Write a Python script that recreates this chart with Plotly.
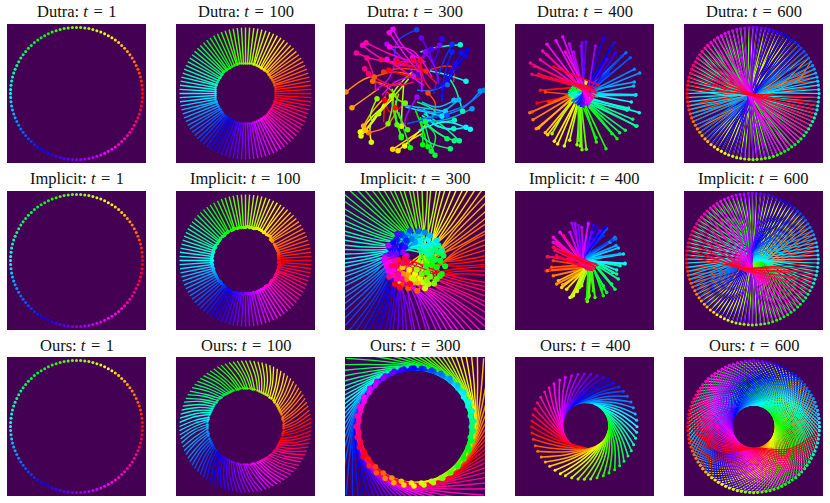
import colorsys
import plotly.graph_objects as go

METHODS = ["Dutra", "Implicit", "Ours"]
TIMES = [1, 100, 300, 400, 600]

START_X = [66,65.9,65.5,64.9,64,62.8,61.4,59.7,57.8,55.7,53.4,50.9,48.1,45.2,42.1,38.8,35.4,31.8,28.1,24.3,20.4,16.4,12.4,8.3,4.1,
0,-4.1,-8.3,-12.4,-16.4,-20.4,-24.3,-28.1,-31.8,-35.4,-38.8,-42.1,-45.2,-48.1,-50.9,-53.4,-55.7,-57.8,-59.7,-61.4,-62.8,-64,-64.9,-65.5,-65.9,
-66,-65.9,-65.5,-64.9,-64,-62.8,-61.4,-59.7,-57.8,-55.7,-53.4,-50.9,-48.1,-45.2,-42.1,-38.8,-35.4,-31.8,-28.1,-24.3,-20.4,-16.4,-12.4,-8.3,-4.1,
0,4.1,8.3,12.4,16.4,20.4,24.3,28.1,31.8,35.4,38.8,42.1,45.2,48.1,50.9,53.4,55.7,57.8,59.7,61.4,62.8,64,64.9,65.5,65.9]
START_Y = [0,4.1,8.3,12.4,16.4,20.4,24.3,28.1,31.8,35.4,38.8,42.1,45.2,48.1,50.9,53.4,55.7,57.8,59.7,61.4,62.8,64,64.9,65.5,65.9,
66,65.9,65.5,64.9,64,62.8,61.4,59.7,57.8,55.7,53.4,50.9,48.1,45.2,42.1,38.8,35.4,31.8,28.1,24.3,20.4,16.4,12.4,8.3,4.1,
0,-4.1,-8.3,-12.4,-16.4,-20.4,-24.3,-28.1,-31.8,-35.4,-38.8,-42.1,-45.2,-48.1,-50.9,-53.4,-55.7,-57.8,-59.7,-61.4,-62.8,-64,-64.9,-65.5,-65.9,
-66,-65.9,-65.5,-64.9,-64,-62.8,-61.4,-59.7,-57.8,-55.7,-53.4,-50.9,-48.1,-45.2,-42.1,-38.8,-35.4,-31.8,-28.1,-24.3,-20.4,-16.4,-12.4,-8.3,-4.1]

D100_HX = [30,30,30,30,29,29,28,27,26,25,24,23,22,21,19,18,16,15,13,11,9,8,6,4,2,
0,-2,-4,-6,-8,-9,-11,-13,-15,-16,-18,-19,-21,-22,-23,-24,-25,-26,-27,-28,-29,-29,-30,-30,-30,
-30,-30,-30,-30,-29,-29,-28,-27,-26,-25,-24,-23,-22,-21,-19,-18,-16,-15,-13,-11,-9,-8,-6,-4,-2,
0,2,4,6,8,9,11,13,15,16,18,19,21,22,23,24,25,26,27,28,29,29,30,30,30]
D100_HY = [0,2,4,6,8,9,11,13,15,16,18,19,21,22,23,24,25,26,27,28,29,29,30,30,30,
30,30,30,30,29,29,28,27,26,25,24,23,22,21,19,18,16,15,13,11,9,8,6,4,2,
0,-2,-4,-6,-8,-9,-11,-13,-15,-16,-18,-19,-21,-22,-23,-24,-25,-26,-27,-28,-29,-29,-30,-30,-30,
-30,-30,-30,-30,-29,-29,-28,-27,-26,-25,-24,-23,-22,-21,-19,-18,-16,-15,-13,-11,-9,-8,-6,-4,-2]

I100_HX = [34,33,33,33,33,32,31,30,29,27,26,25,25,23,21,19,18,16,14,12,10,8,6,4,2,
0,-2,-4,-6,-8,-11,-12,-14,-17,-18,-20,-21,-23,-25,-26,-27,-28,-30,-30,-31,-32,-32,-33,-33,-34,
-33,-34,-33,-33,-32,-32,-31,-30,-29,-28,-27,-25,-24,-22,-21,-19,-18,-16,-14,-12,-10,-8,-6,-4,-2,
0,2,4,6,8,11,12,14,16,18,20,22,24,25,26,28,29,30,31,32,32,33,33,34,33]
I100_HY = [0,2,4,6,8,10,12,14,16,19,20,21,24,25,26,28,28,30,31,32,32,32,33,33,34,
33,33,33,33,32,32,31,30,29,28,27,25,24,22,20,19,17,15,13,12,10,8,6,4,2,
0,-2,-4,-6,-8,-10,-12,-14,-16,-18,-20,-21,-23,-25,-26,-28,-29,-30,-31,-32,-32,-33,-33,-33,-34,
-33,-33,-33,-33,-32,-32,-31,-30,-29,-28,-26,-25,-24,-22,-20,-19,-17,-15,-13,-11,-10,-8,-6,-4,-2]

O100_HX = [37,37,38,38,38,38,38,37,37,36,35,34,33,32,31,29,28,26,24,22,20,18,16,14,12,9,7,5,2,0,
-2,-5,-7,-9,-12,-14,-16,-18,-20,-22,-24,-26,-28,-29,-31,-32,-33,-34,-35,-36,-37,-37,-38,-38,-38,
-38,-38,-37,-37,-36,-35,-34,-33,-32,-31,-29,-28,-26,-24,-22,-20,-18,-16,-14,-12,-9,-7,-5,-2,0,
2,5,7,9,12,14,16,18,20,22,24,26,28,29,31,32,33,34,35,36]
O100_HY = [-9,-7,-5,-2,0,2,5,7,9,12,14,16,18,20,22,24,26,28,29,31,32,33,34,35,36,37,37,38,38,38,
38,38,37,37,36,35,34,33,32,31,29,28,26,24,22,20,18,16,14,12,9,7,5,2,0,
-2,-5,-7,-9,-12,-14,-16,-18,-20,-22,-24,-26,-28,-29,-31,-32,-33,-34,-35,-36,-37,-37,-38,-38,-38,
-38,-38,-37,-37,-36,-35,-34,-33,-32,-31,-29,-28,-26,-24,-22,-20,-18,-16,-14,-12]
O100_MX = [51,51,51,51,51,50,49,49,47,46,45,43,41,39,37,35,32,30,27,25,22,19,16,13,10,6,3,0,
-3,-6,-10,-13,-16,-19,-22,-25,-27,-30,-32,-35,-37,-39,-41,-43,-45,-46,-47,-49,-49,-50,-51,-51,-51,
-51,-51,-50,-49,-49,-47,-46,-45,-43,-41,-39,-37,-35,-32,-30,-27,-25,-22,-19,-16,-13,-10,-6,-3,0,
3,6,10,13,16,19,22,25,27,30,32,35,37,39,41,43,45,46,47,49,49,50]
O100_MY = [-6,-3,0,3,6,10,13,16,19,22,25,27,30,32,35,37,39,41,43,45,46,47,49,49,50,51,51,51,
51,51,50,49,49,47,46,45,43,41,39,37,35,32,30,27,25,22,19,16,13,10,6,3,0,
-3,-6,-10,-13,-16,-19,-22,-25,-27,-30,-32,-35,-37,-39,-41,-43,-45,-46,-47,-49,-49,-50,-51,-51,-51,
-51,-51,-50,-49,-49,-47,-46,-45,-43,-41,-39,-37,-35,-32,-30,-27,-25,-22,-19,-16,-13,-10]

D300_HX = [128,160,252,125,258,97,92,80,12,30,65,70,152,168,188,55,57,88,178,110,148,105,138,190,165,197,178,178,205,242,258,268,279,250,315,325,337,352,362,337,335,355,372,385,372,300,310,336,350,390,415,427,316,315,224,330,330,358,376,370,340,300,268,255,238,293,250,225,135,162,215,212,153,142,143,135,62,72,43,75,68,80,118,235,215,165,140]
D300_HY = [235,257,147,150,213,165,178,332,210,257,312,325,382,386,372,330,342,361,313,275,222,230,305,243,308,323,342,347,377,368,374,388,400,298,350,380,356,356,268,295,320,68,178,322,316,283,268,235,233,260,207,205,188,280,23,67,90,92,84,100,125,50,82,88,48,70,90,225,67,113,163,105,22,32,75,112,70,62,93,108,140,155,113,115,115,118,145]
D300_MX = [145,135,330,170,280,150,130,130,60,75,90,100,200,205,220,95,100,85,180,150,170,85,150,165,160,170,160,165,185,240,245,280,260,280,270,270,290,300,340,290,280,290,320,310,310,250,260,285,295,320,360,370,270,260,165,300,305,335,345,330,320,280,240,225,265,250,280,190,190,140,160,235,190,190,210,190,120,130,110,100,120,150,170,245,250,200,190]
D300_MY = [270,210,135,140,245,150,190,315,175,225,270,285,350,355,340,280,290,310,260,230,190,280,260,230,260,280,290,300,320,320,330,340,350,270,320,365,335,310,200,300,310,75,160,300,320,270,260,255,270,290,260,250,205,290,60,130,170,130,140,150,165,110,120,130,100,100,140,290,120,170,180,150,80,100,85,150,110,90,115,180,190,190,130,170,150,130,160]
D300_TX = [190,125,335,240,270,215,165,165,100,110,130,150,245,240,250,155,125,110,185,200,210,90,155,150,170,160,150,155,170,220,235,240,250,225,240,235,250,245,320,240,245,235,255,230,240,190,180,240,225,250,300,240,225,195,160,275,300,310,310,295,285,240,230,235,290,215,290,190,225,100,120,240,250,230,270,245,190,210,215,100,180,215,235,265,285,255,245]
D300_TY = [245,300,180,145,290,160,225,265,160,200,225,220,320,335,310,230,245,270,190,170,150,300,210,200,215,235,240,250,270,265,285,300,310,240,290,340,300,275,165,290,260,90,145,325,280,255,250,240,260,300,280,290,205,305,115,215,240,165,190,225,200,180,185,195,175,125,185,310,175,205,220,210,120,150,165,190,130,120,120,205,180,180,130,200,185,150,175]

D400_HX = [75,85,110,100,60,53,63,73,80,100,107,127,137,157,173,120,195,205,210,223,200,253,282,252,315,300,323,340,372,362,375,350,345,382,358,372,370,365,367,383,367,342,355,330,290,307,295,275,310,285,222,210,207,250,185,172,152,132,105,160,92,85,105,55,68,60,80,95,125]
D400_HY = [243,205,240,210,270,272,293,320,318,332,338,358,366,372,355,335,368,372,383,382,355,360,380,347,350,335,332,325,313,292,312,258,265,272,240,218,220,192,180,153,142,92,107,103,155,62,80,47,93,112,60,62,72,72,90,66,44,56,67,90,87,113,98,123,133,157,157,167,135]
D400_TX = [255,262,268,258,250,248,245,240,235,232,228,225,222,218,215,212,210,205,203,200,198,195,190,185,180,178,175,172,170,168,170,168,172,178,185,190,195,190,196,180,178,183,188,195,190,195,200,205,210,205,210,215,218,222,228,225,232,235,238,240,243,245,240,250,255,258,252,258,262]
D400_TY = [205,190,200,225,180,190,185,182,178,176,178,175,172,172,170,175,175,172,175,178,178,180,185,188,190,195,200,203,205,210,215,218,222,212,208,215,220,225,212,235,238,242,246,250,235,245,250,255,250,245,255,258,252,250,255,245,250,245,240,235,232,228,225,222,215,210,205,198,190]

RING_X = [52,53,54,56,58,62,66,71,77,83,90,97,106,114,124,134,144,155,166,177,189,201,213,225,238,
250,262,275,287,299,311,323,334,345,356,366,376,386,394,403,410,417,423,429,434,438,442,444,446,447,
448,447,446,444,442,438,434,429,423,417,410,403,394,386,376,366,356,345,334,323,311,299,287,275,262,
250,238,225,213,201,189,177,166,155,144,134,124,114,106,97,90,83,77,71,66,62,58,56,54,53]
RING_Y = [280,292,305,317,329,341,353,364,375,386,396,406,416,424,433,440,447,453,459,464,468,472,474,476,477,
478,477,476,474,472,468,464,459,453,447,440,433,424,416,406,396,386,375,364,353,341,329,317,305,292,
280,268,255,243,231,219,207,196,185,174,164,154,144,136,127,120,113,107,101,96,92,88,86,84,83,
82,83,84,86,88,92,96,101,107,113,120,127,136,144,154,164,174,185,196,207,219,231,243,255,268]
D600_TX = [300,305,295,310,330,350,380,370,390,340,320,300,290,285,280,275,272,268,265,262,258,255,250,248,245,
240,235,232,228,225,220,215,210,205,215,200,195,205,190,185,180,195,175,170,185,165,175,160,170,165,
180,190,175,195,185,200,210,195,205,215,225,210,220,230,215,225,235,220,230,240,225,235,245,230,240,
245,250,240,255,250,260,255,265,260,270,265,275,270,280,275,285,280,290,285,295,290,300,295,305,300]
D600_TY = [280,270,285,255,250,245,235,230,240,250,240,245,250,240,235,240,230,235,225,232,230,225,232,228,230,
230,235,225,232,220,228,235,240,225,245,235,240,250,245,250,255,260,250,255,265,265,275,270,280,285,
275,285,290,295,300,305,295,310,315,300,305,320,315,310,325,320,315,330,325,320,335,310,325,315,300,
330,320,340,325,345,335,325,340,330,320,335,325,315,320,310,315,305,310,300,305,295,300,290,295,285]

I300_HX = [150,160,175,165,185,205,232,180,200,190,205,220,235,188,175,215,208,225,240,255,250,222,265,230,260,282,270,245,290,262,300,258,275,290,305,315,300,285,310,270,295,285,305,275,295,262,255,270,250,285,265,240,290,245,270,225,225,205,255,215,235,195,210,185,200,170,185,160,180,150,165,195,172,150,170,138,190,160,145,200,135,135,145,155,150,140,160,170,185,165,175,148,190,155,170,200,195,180,210,165]
I300_HY = [270,285,268,315,340,352,360,295,325,310,312,335,335,290,330,322,297,310,322,352,335,325,340,297,328,338,318,310,325,305,315,285,282,290,310,287,270,268,255,260,245,232,240,245,225,250,235,225,225,215,205,210,210,190,195,195,215,190,185,205,182,200,180,190,210,205,225,215,240,232,230,230,190,250,250,255,245,262,225,255,262,270,300,310,275,285,298,325,325,272,310,318,278,285,285,275,262,350,340,340]
I300_MX = [354,355,355,355,354,353,351,349,346,343,339,335,330,325,320,314,308,301,295,288,280,273,265,257,249,241,233,225,
217,209,201,193,185,177,170,162,155,149,142,136,130,125,120,115,111,107,104,101,99,97,96,95,95,
95,95,96,97,99,101,104,107,111,115,120,125,130,136,142,149,155,162,170,177,185,193,201,209,217,
233,241,249,257,265,273,280,288,295,301,308,314,320,325,330,335,339,343,346,349,351,353]
I300_MY = [286,278,270,262,254,246,238,230,222,215,207,200,194,187,181,175,170,165,160,156,152,149,146,144,142,141,140,140,
140,141,142,144,146,149,152,156,160,165,170,175,181,187,194,200,207,215,222,230,238,246,254,262,270,
278,286,294,302,310,318,325,333,340,346,353,359,365,370,375,380,384,388,391,394,396,398,399,400,400,
400,399,398,396,394,391,388,384,380,375,370,365,359,353,346,340,333,325,318,310,302,294]
I300_TX = [525,524,523,520,516,510,504,496,488,478,468,456,444,430,416,401,386,370,353,335,318,300,281,263,244,
225,206,187,169,150,132,115,97,80,64,49,34,20,6,-6,-18,-28,-38,-46,-54,-60,-66,-70,-73,-74,
-75,-74,-73,-70,-66,-60,-54,-46,-38,-28,-18,-6,6,20,34,49,64,80,97,115,132,150,169,187,206,
225,244,263,281,300,318,335,353,370,386,401,416,430,444,456,468,478,488,496,504,510,516,520,523,524]
I300_TY = [270,251,232,214,195,177,160,142,125,109,94,79,65,51,39,27,17,7,-1,-9,-15,-21,-25,-28,-29,
-30,-29,-28,-25,-21,-15,-9,-1,7,17,27,39,51,65,79,94,109,125,142,160,177,195,214,232,251,
270,289,308,326,345,363,380,398,415,431,446,461,475,489,501,513,523,533,541,549,555,561,565,568,569,
570,569,568,565,561,555,549,541,533,523,513,501,489,475,461,446,431,415,398,380,363,345,326,308,289]

I400_HX = [618,628,622,640,635,622,640,650,668,655,665,680,690,700,712,695,725,718,742,745,748,765,760,740,790,785,800,790,825,815,835,830,818,840,830,855,855,850,835,840,828,810,825,828,800,815,790,770,795,770,760,745,780,755,715,695,705,725,690,745,660,640,640,650,655,670,625,645,640,650,660,670]
I400_HY = [300,298,258,270,290,300,315,340,342,330,350,355,380,375,362,378,345,350,392,380,375,380,360,385,375,355,365,345,355,340,325,310,305,285,298,280,278,250,232,250,225,215,200,205,175,210,195,200,172,172,165,155,180,185,165,158,160,170,185,160,185,200,215,215,225,195,258,240,230,255,262,245]
I400_TX = [775,770,772,765,760,768,750,745,740,748,745,742,745,742,740,738,745,750,750,752,748,755,750,745,760,755,750,745,752,760,745,755,750,740,745,750,735,740,745,738,742,735,735,738,732,740,735,730,730,735,730,728,738,732,725,728,720,730,722,728,740,745,750,755,735,745,770,765,775,755,760,768]
I400_TY = [278,285,275,290,280,288,290,292,295,285,288,290,292,285,290,280,280,285,310,305,300,295,290,288,290,280,275,272,270,275,268,270,265,268,265,272,270,268,262,265,260,262,265,255,258,250,248,252,260,250,255,250,245,265,265,270,272,275,268,262,298,300,290,295,290,295,280,295,285,298,300,290]

I600_HX = [22,23,24,26,28,32,36,41,47,53,60,67,76,84,94,104,114,125,136,147,159,171,183,195,208,
220,232,245,257,269,281,293,304,315,326,336,346,356,364,373,380,387,393,399,404,408,412,414,416,417,
418,417,416,414,412,408,404,399,393,387,380,373,364,356,346,336,326,315,304,293,281,269,257,245,232,
220,208,195,183,171,159,147,136,125,114,104,94,84,76,67,60,53,47,41,36,32,28,26,24,23]
I600_HY = [222,234,247,259,271,283,295,306,317,328,338,348,358,366,375,382,389,395,401,406,410,414,416,418,419,
420,419,418,416,414,410,406,401,395,389,382,375,366,358,348,338,328,317,306,295,283,271,259,247,234,
222,210,197,185,173,161,149,138,127,116,106,96,86,78,69,62,55,49,43,38,34,30,28,26,25,
24,25,26,28,30,34,38,43,49,55,62,69,78,86,96,106,116,127,138,149,161,173,185,197,210]
I600_TX = [290,285,280,285,275,270,265,262,258,255,250,248,245,
240,238,236,234,232,230,228,226,226,225,224,224,225,226,228,230,232,234,
236,238,240,242,244,246,248,250,248,246,244,242,240,238,236,234,232,230,228,
226,228,225,230,226,224,228,226,222,224,226,220,224,222,220,222,224,220,218,222,220,218,220,222,218,
215,213,216,212,210,214,208,212,206,210,204,208,202,206,200,204,198,202,196,200,195,198,190,195,190]
I600_TY = [232,228,235,230,238,235,232,236,228,232,230,234,230,
232,228,230,226,228,224,228,225,222,226,224,228,226,224,222,220,222,218,
218,216,214,216,212,214,216,218,220,222,218,224,220,222,224,220,226,222,228,
226,222,218,214,210,212,206,208,204,200,196,200,194,198,192,196,190,194,198,188,192,196,190,200,194,
205,212,218,222,226,230,234,238,242,236,246,240,250,244,254,248,258,252,255,250,258,252,255,250,252]

O300_HX = [70,86,88,107,110,130,136,156,162,184,192,214,222,244,252,274,280,302,308,328,332,352,354,371,370,386,384,396,390,400,393,401,390,396,383,386,370,371,353,352,332,329,308,302,281,274,252,244,222,214,192,184,163,156,136,130,111,107,90,88,72,73,59,63,52,58,49,58,52,63,59,73]
O300_HY = [365,372,392,395,413,414,430,429,443,439,450,444,453,444,450,439,443,429,430,414,413,395,392,372,365,346,337,318,307,288,275,258,243,228,214,200,186,172,160,150,139,130,122,115,109,105,102,100,99,100,102,105,109,115,122,130,139,150,160,172,186,200,214,228,243,258,275,292,307,322,337,350]
O300_M2X = [194,209,225,241,256,271,286,300,314,327,339,351,361,371,379,386,392,397,400,402,403,402,400,397,392,386,379,371,361,351,339,327,314,300,286,271,256,241,225,209,194,179,164,150,136,123,111,99,88,78,71,64,58,53,50,48,47,48,50,53,58,64,71,78,88,99,111,123,136,150,164,179]
O300_M2Y = [450,452,453,452,450,447,442,436,429,421,411,401,389,377,364,350,336,321,306,291,275,259,244,229,214,200,186,173,161,149,139,129,121,114,108,103,100,98,97,98,100,103,108,114,121,129,139,149,161,173,186,200,214,229,244,259,275,291,306,321,336,350,364,377,389,401,411,421,429,436,442,447]
O300_M1X = [357,370,382,393,403,411,418,423,427,429,430,429,427,423,418,411,403,393,382,370,357,343,328,312,295,278,261,243,225,207,189,172,155,138,122,107,93,80,68,57,47,39,32,27,23,21,20,21,23,27,32,39,47,57,68,80,93,107,122,138,155,172,189,207,225,243,261,278,295,312,328,343]
O300_M1Y = [432,420,407,393,378,362,345,328,311,293,275,257,239,222,205,188,172,157,143,130,118,107,97,89,82,77,73,71,70,71,73,77,82,89,97,107,118,130,143,157,172,188,205,222,239,257,275,293,311,328,345,362,378,393,407,420,432,443,453,461,468,473,477,479,480,479,477,473,468,461,453,443]
O300_TX = [515,514,511,505,498,488,476,463,447,430,411,391,370,348,324,300,275,250,225,200,175,150,126,102,80,59,39,20,3,-13,-26,-38,-48,-55,-61,-64,-65,-64,-61,-55,-48,-38,-26,-13,3,20,39,59,80,102,126,150,175,200,225,250,275,300,324,348,370,391,411,430,447,463,476,488,498,505,511,514]
O300_TY = [275,250,225,200,176,152,130,109,89,70,53,37,24,12,2,-5,-11,-14,-15,-14,-11,-5,2,12,24,37,53,70,89,109,130,152,176,200,225,250,275,300,325,350,374,398,420,441,461,480,497,513,526,538,548,555,561,564,565,564,561,555,548,538,526,513,497,480,461,441,420,398,374,350,325,300]

O400_HX = [575,576,580,586,593,604,616,629,645,661,676,695,714,733,752,771,790,807,824,839,852,864,874,881,887,890,891,890,886,880,873,862,850,837,821,805,790,771,752,733,714,695,676,659,642,627,614,602,592,585,579,576]
O400_HY = [275,294,313,332,349,366,381,394,406,416,422,428,432,433,432,428,422,414,404,392,379,363,347,329,310,292,275,256,237,218,201,184,169,156,144,134,127,122,118,117,118,122,127,135,146,158,171,187,203,221,239,258]
O400_MX = [644,651,659,668,678,689,699,712,724,737,750,762,775,786,797,807,816,824,831,836,839,841,842,841,839,835,830,823,815,806,796,785,775,762,750,737,724,712,699,688,677,667,658,650,643,638,635,633,632,633,635,639]
O400_MY = [321,332,342,351,359,366,370,374,376,377,376,374,370,365,358,350,341,331,320,308,296,283,272,259,247,234,223,212,202,193,185,178,174,170,168,167,168,170,174,179,186,194,203,213,224,236,248,261,272,285,297,310]
O400_TX = [760,760,758,756,754,762,770,777,784,790,796,800,803,805,807,807,806,805,802,799,794,789,783,776,769,762,754,746,737,728,720,712,704,697,690,684,679,675,671,669,668,667,668,670,672,675,680,685,691,698,705,712]
O400_TY = [345,345,345,344,343,337,334,329,324,318,311,304,296,288,279,272,263,255,247,239,232,225,219,214,209,207,204,202,202,202,204,207,210,215,220,226,233,240,248,256,265,272,280,289,297,305,312,320,325,331,335,339]

O600_TX = [262,266,270,274,278,281,285,288,291,295,297,300,303,305,307,309,310,312,313,314,314,315,
315,315,314,314,313,312,310,309,307,305,303,300,297,295,291,288,285,281,278,274,270,266,262,258,254,
250,246,242,238,234,230,226,222,219,215,212,209,205,203,200,197,195,193,191,190,188,187,186,186,185,
185,185,186,186,187,188,190,191,193,195,197,200,203,205,209,212,215,219,222,226,230,234,238,242,246,
250,254,258]
O600_TY = [344,343,342,340,339,337,335,333,330,327,325,321,318,315,311,308,304,300,296,292,288,284,
280,276,272,268,264,260,256,252,249,245,242,239,235,233,230,227,225,223,221,220,218,217,216,216,215,
215,215,216,216,217,218,220,221,223,225,227,230,233,235,239,242,245,249,252,256,260,264,268,272,276,
280,284,288,292,296,300,304,308,311,315,318,321,325,327,330,333,335,337,339,340,342,343,344,344,345,
345,345,344]
O600_MX = [154,159,164,170,176,183,190,197,204,211,219,227,234,242,
250,258,266,273,281,289,296,303,310,317,324,330,336,341,346,351,356,360,363,366,369,371,373,374,375,
375,375,374,373,371,369,366,363,360,356,351,346,341,336,330,324,317,310,303,296,289,281,273,266,258,
250,242,234,227,219,211,204,197,190,183,176,170,164,159,154,149,144,140,137,134,131,129,127,126,125,
125,125,126,127,129,131,134,137,140,144,149]
O600_MY = [360,366,371,376,381,386,390,393,396,399,401,403,404,405,
405,405,404,403,401,399,396,393,390,386,381,376,371,366,360,354,347,340,333,326,319,311,303,296,288,
280,272,264,257,249,241,234,227,220,213,206,200,194,189,184,179,174,170,167,164,161,159,157,156,155,
155,155,156,157,159,161,164,167,170,174,179,184,189,194,200,206,213,220,227,234,241,249,257,264,272,
280,288,296,303,311,319,326,333,340,347,354]

COL_X = [(7, 146), (176, 315), (345, 485), (515, 654), (684, 823)]
ROW_Y = [(24, 163), (191, 330), (357, 496)]
TITLE_Y = [12, 178, 345]
W, H = 830, 503
UNIT = ([-69.5, 69.5], [-69.5, 69.5])


def hue(i, n):
    r, g, b = colorsys.hsv_to_rgb(i / n, 1, 1)
    return f"rgb({int(r*255)},{int(g*255)},{int(b*255)})"


def rot(values, k):
    """The same particles' read-off waypoints, taken k places further round."""
    return values[k:] + values[:k]


fig = go.Figure()
annotations = []
layout_axes = {}


def panel(row, col, paths, rng, lw, ms, spline=False):
    """paths runs from tail to head; the last pair holds the head dots."""
    idx = row * 5 + col + 1
    suffix = "" if idx == 1 else str(idx)
    x0, x1 = COL_X[col]
    y0, y1 = ROW_Y[row]
    common = dict(visible=False, showgrid=False, zeroline=False)
    layout_axes["xaxis" + suffix] = dict(domain=[x0 / W, x1 / W], range=rng[0],
                                         anchor="y" + suffix, **common)
    layout_axes["yaxis" + suffix] = dict(domain=[1 - y1 / H, 1 - y0 / H], range=rng[1],
                                         anchor="x" + suffix, **common)
    hx, hy = paths[-1]
    n = len(hx)
    kw = dict(xaxis="x" + suffix, yaxis="y" + suffix, hoverinfo="skip", showlegend=False)
    if len(paths) > 1:
        for i in range(n):
            fig.add_trace(go.Scatter(
                x=[p[0][i] for p in paths], y=[p[1][i] for p in paths], mode="lines",
                line=dict(color=hue(i, n), width=lw, shape="spline" if spline else "linear"), **kw))
    fig.add_trace(go.Scatter(x=hx, y=hy, mode="markers",
                             marker=dict(color=[hue(i, n) for i in range(n)], size=ms, line=dict(width=0)), **kw))
    annotations.append(dict(text=f"{METHODS[row]}: <i>t</i>\u2004=\u2004{TIMES[col]}", xref="paper", yref="paper",
                            x=(x0 + x1) / 2 / W, y=1 - TITLE_Y[row] / H, xanchor="center", yanchor="middle",
                            showarrow=False, font=dict(family="Liberation Serif", size=16.5, color="#111111")))


S = (START_X, START_Y)
panel(0, 0, [S], UNIT, 1, 3)
panel(1, 0, [S], UNIT, 1, 3)
panel(2, 0, [S], UNIT, 1, 3)
panel(0, 1, [S, (D100_HX, D100_HY)], UNIT, 1.4, 2.5)
panel(1, 1, [S, (I100_HX, I100_HY)], UNIT, 1.4, 3.5)
panel(2, 1, [S, (O100_MX, O100_MY), (O100_HX, O100_HY)], UNIT, 1.3, 2.5, spline=True)
panel(0, 2, [(D300_TX, D300_TY), (D300_MX, D300_MY), (D300_HX, D300_HY)], ([9, 429], [423, 6]), 1.5, 5.5, spline=True)
panel(1, 2, [(I300_TX, I300_TY), (I300_MX, I300_MY), (I300_HX, I300_HY)], ([16, 434], [477, 62]), 1.4, 6, spline=True)
panel(2, 2, [(O300_TX, O300_TY), (rot(O300_M1X, 5), rot(O300_M1Y, 5)), (rot(O300_M2X, 8), rot(O300_M2Y, 8)),
             (rot(O300_HX, 9), rot(O300_HY, 9)), (O300_HX, O300_HY)], ([16, 434], [483, 66]), 1.4, 5.5, spline=True)
panel(0, 3, [(D400_TX, D400_TY), (D400_HX, D400_HY)], ([9, 426], [423, 6]), 1.7, 3.5)
panel(1, 3, [(I400_TX, I400_TY), (I400_HX, I400_HY)], ([525, 942], [477, 62]), 1.9, 3.5)
panel(2, 3, [(O400_TX, O400_TY), (rot(O400_MX, -1), rot(O400_MY, -1)), (O400_HX, O400_HY)], ([525, 942], [483, 66]), 1.6, 3, spline=True)
panel(0, 4, [(rot(RING_X, 50), rot(RING_Y, 50)), (D600_TX, D600_TY), (RING_X, RING_Y)], ([43, 460], [488, 72]), 1.2, 3.2)
panel(1, 4, [(rot(I600_HX, 50), rot(I600_HY, 50)), (I600_TX, I600_TY), (I600_HX, I600_HY)], ([15, 432], [435, 18]), 1.2, 3)
panel(2, 4, [(rot(RING_X, 50), rot(RING_Y, 50)), (rot(O600_MX, 31), rot(O600_MY, 31)), (O600_TX, O600_TY),
             (O600_MX, O600_MY), (RING_X, RING_Y)], ([41, 458], [488, 71]), 1.1, 3.2, spline=True)

fig.update_layout(width=W, height=H, margin=dict(l=0, r=0, t=0, b=0), paper_bgcolor="white",
                  plot_bgcolor="#440154", showlegend=False, annotations=annotations, **layout_axes)
fig.write_html("out.html", config={"displayModeBar": False}, post_script="document.body.style.margin='0';")
